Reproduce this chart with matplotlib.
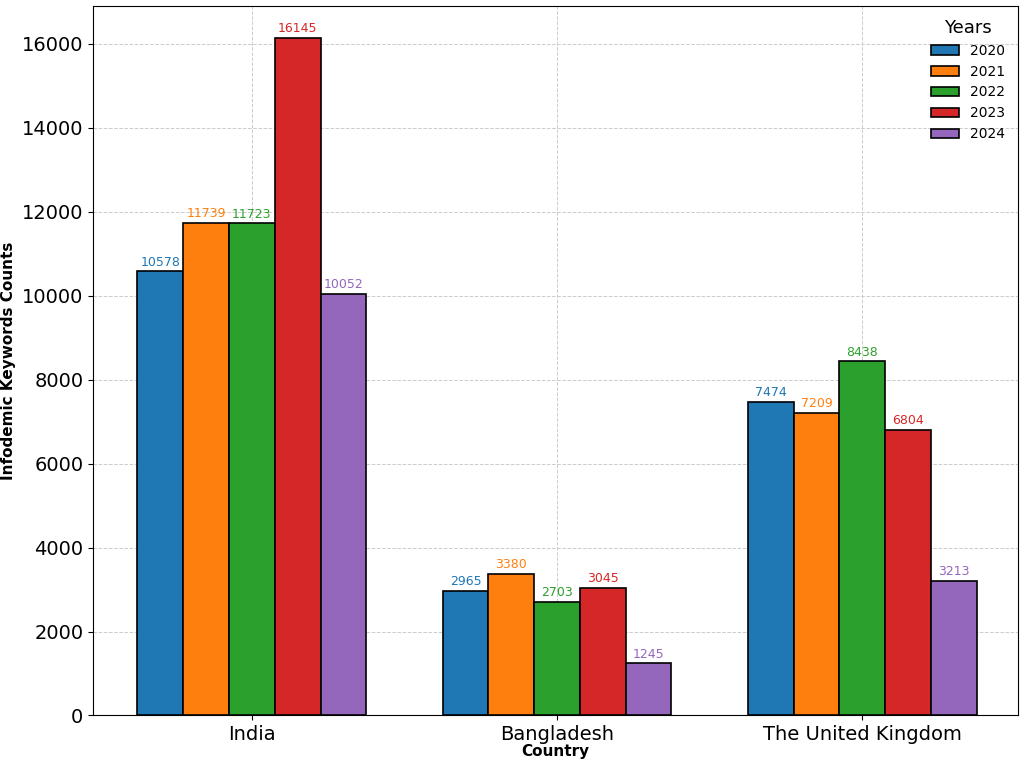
import numpy as np
import matplotlib.pyplot as plt

countries = ['India', 'Bangladesh', 'The United Kingdom']
years = ['2020', '2021', '2022', '2023', '2024']
counts = {
    '2020': [10578, 2965, 7474],
    '2021': [11739, 3380, 7209],
    '2022': [11723, 2703, 8438],
    '2023': [16145, 3045, 6804],
    '2024': [10052, 1245, 3213],
}
colors = ['#1f77b4', '#ff7f0e', '#2ca02c', '#d62728', '#9467bd']

fig = plt.figure(figsize=(10.24, 7.66), dpi=100)
ax = fig.add_axes([0.091, 0.066, 0.903, 0.926])

x = np.arange(len(countries))
width = 0.15
for i, yr in enumerate(years):
    pos = x + (i - 2) * width
    bars = ax.bar(pos, counts[yr], width, color=colors[i], edgecolor='black',
                  linewidth=1.2, label=yr, zorder=3)
    for b, v in zip(bars, counts[yr]):
        ax.text(b.get_x() + b.get_width() / 2, v + 60, str(v), ha='center',
                va='bottom', fontsize=9, color=colors[i])

ax.set_xticks(x)
ax.set_xticklabels(countries, fontsize=14)
ax.tick_params(axis='y', labelsize=14)
ax.set_xlim(-0.52, 2.51)
ax.set_ylim(0, 16900)
ax.set_xlabel('Country', fontsize=11, fontweight='bold', labelpad=0)
ax.set_ylabel('Infodemic Keywords Counts', fontsize=11, fontweight='bold')
ax.grid(True, linestyle='--', color='#cccccc', linewidth=0.7, zorder=0)
ax.legend(title='Years', title_fontsize=13, fontsize=10, frameon=False, loc='upper right')

fig.savefig('out.png', dpi=100)
